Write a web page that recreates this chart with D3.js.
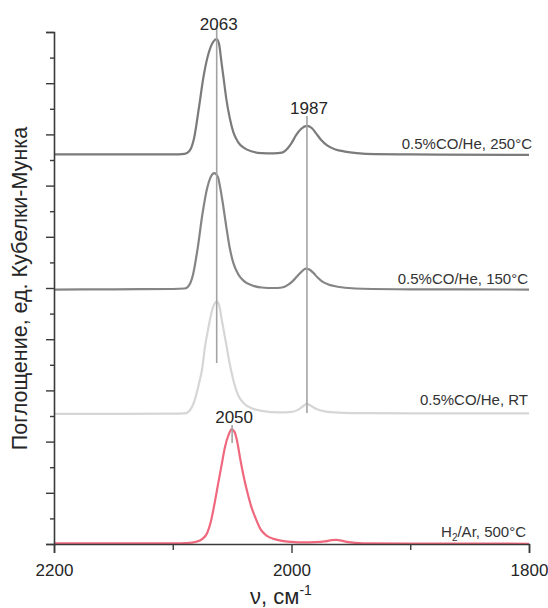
<!DOCTYPE html>
<html>
<head>
<meta charset="utf-8">
<script src="https://cdn.jsdelivr.net/npm/d3@7"></script>
<style>
html,body{margin:0;padding:0;background:#fff;}
svg{display:block;font-family:"Liberation Sans",Arial,sans-serif;}
</style>
</head>
<body>
<svg id="chart" width="548" height="608"></svg>
<script>
// ---- data (wavenumber, Kubelka-Munk units, offset stacked) ----
const wn250 = [2200,2150,2100,2090,2086,2082,2078,2074,2070,2066,2063,2061,2059,2057,2055,2052,2049,2045,2040,2033,2025,2015,2008,2003,2000,1996,1992,1987,1983,1979,1975,1970,1963,1955,1945,1930,1900,1800];
const km250 = [15.22,15.22,15.22,15.24,15.35,15.86,17.03,18.28,19.14,19.61,19.72,19.53,18.83,18.13,17.42,16.64,16.09,15.70,15.47,15.33,15.27,15.26,15.29,15.47,15.66,15.98,16.21,16.33,16.25,16.02,15.78,15.57,15.41,15.33,15.27,15.23,15.22,15.20];

const wn150 = [2200,2150,2100,2090,2087,2083,2079,2075,2071,2068,2065,2062,2060,2058,2055,2052,2049,2045,2040,2033,2025,2015,2008,2003,1999,1995,1991,1988,1985,1982,1978,1974,1969,1962,1952,1940,1900,1800];
const km150 = [9.94,9.95,9.96,9.98,10.06,10.51,11.56,12.89,13.91,14.34,14.49,14.34,13.91,13.36,12.42,11.56,10.98,10.55,10.27,10.10,10.02,10.00,10.02,10.12,10.27,10.47,10.66,10.76,10.72,10.61,10.41,10.25,10.14,10.06,10.00,9.97,9.95,9.94];

const wnRT = [2200,2100,2090,2086,2082,2078,2075,2073,2070,2068,2066,2063,2061,2059,2057,2055,2052,2049,2045,2040,2033,2025,2010,2000,1995,1990,1987,1984,1979,1972,1960,1940,1900,1800];
const kmRT = [5.08,5.09,5.10,5.20,5.55,6.25,6.91,7.66,8.44,8.91,9.26,9.47,9.34,8.83,8.32,7.81,7.03,6.41,5.82,5.49,5.29,5.20,5.14,5.16,5.23,5.39,5.47,5.41,5.27,5.18,5.13,5.11,5.10,5.10];

const wnH2 = [2200,2100,2088,2080,2075,2071,2068,2065,2062,2059,2056,2053,2050.5,2048,2046,2043,2040,2037,2034,2030,2026,2021,2015,2008,2000,1990,1980,1972,1966,1962,1958,1952,1940,1900,1800];
const kmH2 = [0.03,0.03,0.04,0.09,0.20,0.43,0.86,1.53,2.30,3.05,3.79,4.26,4.48,4.38,4.06,3.28,2.58,1.99,1.48,0.98,0.57,0.33,0.20,0.12,0.08,0.06,0.07,0.10,0.15,0.16,0.13,0.07,0.03,0.02,0.01];

const seriesNames = ["0.5%CO/He, 250°C","0.5%CO/He, 150°C","0.5%CO/He, RT","H2/Ar, 500°C"];
const seriesBase  = [15.22, 9.96, 5.10, 0.03];

// reference lines: wavenumber, from, to (KM units)
const refWn   = [2063, 1987, 2050];
const refFrom = [7.07, 5.12, 3.95];
const refTo   = [20.27, 16.72, 4.65];
// peak labels
const peakLabels = ["2063","1987","2050"];
const peakLabelY = [20.08, 16.80, 4.73];

const xTicks = [2200,2100,2000,1900,1800];
const xTickLabels = ["2200","","2000","","1800"];
const yTicks = d3.range(0,21,1);

// ---- drawing ----
const svg = d3.select("#chart");
const x = d3.scaleLinear().domain([2200,1800]).range([54,529]);
const y = d3.scaleLinear().domain([0,20]).range([544,32]);

const colors = ["#7b7b7b","#858585","#d6d6d6","#f0687e"];
const data = [
  d3.zip(wn250, km250),
  d3.zip(wn150, km150),
  d3.zip(wnRT, kmRT),
  d3.zip(wnH2, kmH2)
];

const line = d3.line().x(d=>x(d[0])).y(d=>y(d[1])).curve(d3.curveMonotoneX);

const gCurves = svg.append("g");
data.forEach((d,i)=>{
  gCurves.append("path").attr("d", line(d)).attr("fill","none")
    .attr("stroke", colors[i]).attr("stroke-width", 2.2)
    .attr("stroke-linejoin","round");
});

// reference lines
refWn.forEach((w,i)=>{
  svg.append("line").attr("x1",x(w)).attr("x2",x(w))
    .attr("y1",y(refFrom[i])).attr("y2",y(refTo[i]))
    .attr("stroke","#a3a3a3").attr("stroke-width",1.6);
});

// peak labels
peakLabels.forEach((t,i)=>{
  svg.append("text").attr("x", x(refWn[i])+2).attr("y", y(peakLabelY[i]))
    .attr("text-anchor","middle").attr("font-size",17).attr("fill","#262626").text(t);
});

// series labels
const labelRight = [532,528,528,526];
const labelRise  = [5.5,5,8.5,6.6];
seriesNames.forEach((n,i)=>{
  const t = svg.append("text").attr("x", labelRight[i]).attr("y", y(seriesBase[i]) - labelRise[i])
    .attr("text-anchor","end").attr("font-size",15).attr("fill","#333");
  if (n.startsWith("H2")) {
    t.append("tspan").text("H");
    t.append("tspan").attr("font-size",10).attr("dy",4).text("2");
    t.append("tspan").attr("dy",-4).text(n.slice(2));
  } else {
    t.text(n);
  }
});

// axes
const axisColor = "#3a3a3a";
const yAxis = d3.axisLeft(y).tickValues(yTicks).tickFormat("").tickSizeOuter(0)
  .tickSize(8);
const gy = svg.append("g").attr("transform","translate(54,0)").call(yAxis);
gy.selectAll(".tick line").attr("x2", d => d%2===0 ? -8 : -4);
gy.select(".domain").attr("stroke",axisColor).attr("stroke-width",1.6);
gy.selectAll(".tick line").attr("stroke",axisColor).attr("stroke-width",1.4);

const xAxis = d3.axisBottom(x).tickValues(xTicks).tickFormat((d,i)=>xTickLabels[i]).tickSizeOuter(0).tickSize(9).tickPadding(11);
const gx = svg.append("g").attr("transform","translate(0,544)").call(xAxis);
gx.selectAll(".tick line").attr("y2", d => (d%200===0) ? 9 : 6);
gx.select(".domain").attr("stroke",axisColor).attr("stroke-width",1.6);
gx.selectAll(".tick line").attr("stroke",axisColor).attr("stroke-width",1.4);
gx.selectAll(".tick text").attr("font-size",17).attr("fill","#262626")
  .attr("font-family","Liberation Sans, Arial, sans-serif");

// axis titles
svg.append("text").attr("transform","translate(27,288.5) rotate(-90)")
  .attr("text-anchor","middle").attr("font-size",21.5).attr("fill","#262626")
  .text("Поглощение, ед. Кубелки-Мунка");

const xt = svg.append("text").attr("x",281).attr("y",604).attr("text-anchor","middle")
  .attr("font-size",22).attr("fill","#262626");
xt.append("tspan").text("ν, см");
xt.append("tspan").attr("font-size",14).attr("dy",-9).text("-1");
</script>
</body>
</html>
